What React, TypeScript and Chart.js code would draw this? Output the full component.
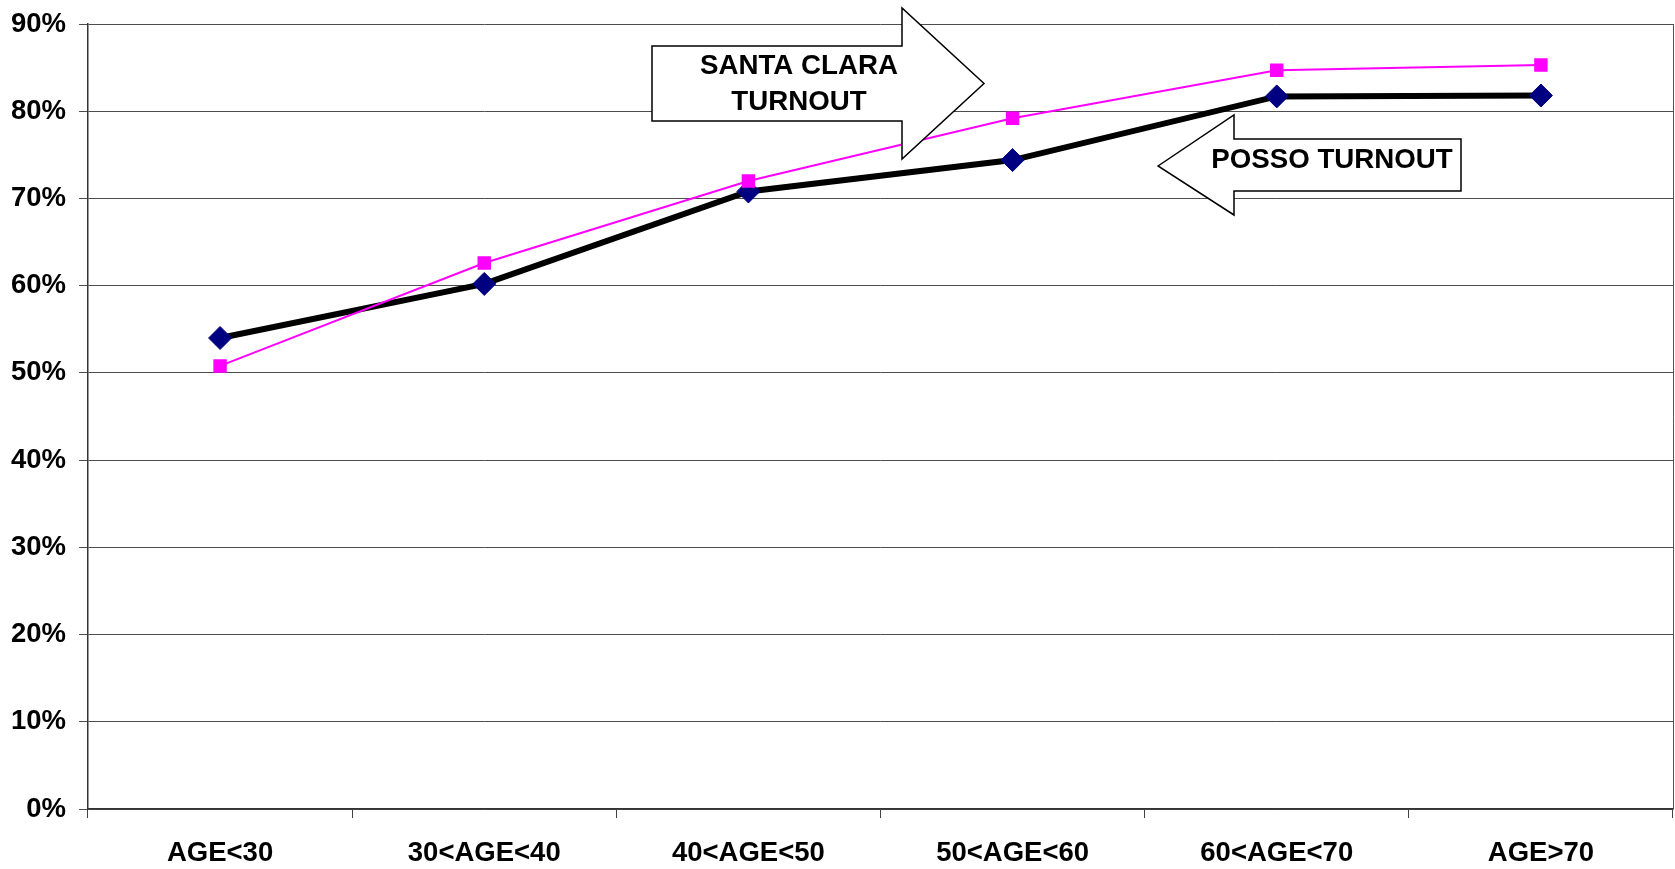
import React, { useEffect, useRef } from "react";
import { Chart, registerables } from "chart.js";

Chart.register(...registerables);

const categories = ["AGE<30", "30<AGE<40", "40<AGE<50", "50<AGE<60", "60<AGE<70", "AGE>70"];
const santaClaraTurnout = [50.8, 62.6, 72.0, 79.2, 84.7, 85.3];
const possoTurnout = [54.0, 60.2, 70.8, 74.4, 81.7, 81.8];
const yMin = 0;
const yMax = 90;
const yStep = 10;
const santaClaraLabel = ["SANTA CLARA", "TURNOUT"];
const possoLabel = ["POSSO TURNOUT"];

const FONT = "'Liberation Sans', Arial, sans-serif";

const arrowPlugin = {
  id: "arrows",
  beforeDatasetsDraw(chart: any) {
    const { ctx, chartArea } = chart;
    ctx.save();
    ctx.strokeStyle = "#555";
    ctx.lineWidth = 1;
    ctx.beginPath();
    ctx.moveTo(chartArea.right + 0.5, chartArea.top);
    ctx.lineTo(chartArea.right + 0.5, chartArea.bottom);
    ctx.stroke();
    ctx.restore();
  },
  afterDraw(chart: any) {
    const ctx = chart.ctx;
    ctx.save();
    ctx.lineWidth = 1.5;
    ctx.strokeStyle = "#000";
    ctx.fillStyle = "#fff";
    ctx.lineJoin = "miter";
    // Santa Clara arrow (pointing right)
    const sc = [
      [652, 46], [902, 46], [902, 8], [984, 83.5], [902, 159], [902, 121], [652, 121],
    ];
    ctx.beginPath();
    sc.forEach((p, i) => (i === 0 ? ctx.moveTo(p[0], p[1]) : ctx.lineTo(p[0], p[1])));
    ctx.closePath();
    ctx.fill();
    ctx.stroke();
    // Posso arrow (pointing left)
    const ps = [
      [1158, 166], [1234, 115], [1234, 139], [1461, 139], [1461, 191], [1234, 191], [1234, 215],
    ];
    ctx.beginPath();
    ps.forEach((p, i) => (i === 0 ? ctx.moveTo(p[0], p[1]) : ctx.lineTo(p[0], p[1])));
    ctx.closePath();
    ctx.fill();
    ctx.stroke();

    ctx.fillStyle = "#000";
    ctx.font = `bold 27.7px ${FONT}`;
    ctx.textAlign = "center";
    ctx.textBaseline = "middle";
    ctx.fillText(santaClaraLabel[0], 799, 66.8);
    ctx.fillText(santaClaraLabel[1], 799, 102.6);
    ctx.fillText(possoLabel[0], 1332, 160);
    ctx.restore();
  },
};

export default function App() {
  const ref = useRef<HTMLCanvasElement | null>(null);
  useEffect(() => {
    document.body.style.margin = "0";
    const canvas = ref.current;
    if (!canvas) return;
    const chart = new Chart(canvas, {
      type: "line",
      data: {
        labels: categories,
        datasets: [
          {
            label: "Santa Clara Turnout",
            data: santaClaraTurnout,
            borderColor: "#FF00FF",
            backgroundColor: "#FF00FF",
            borderWidth: 2,
            pointStyle: "rect",
            pointRadius: 9.5,
            pointBorderWidth: 0,
            pointBackgroundColor: "#FF00FF",
            tension: 0,
            order: 0,
          },
          {
            label: "Posso Turnout",
            data: possoTurnout,
            borderColor: "#000000",
            backgroundColor: "#000080",
            borderWidth: 6,
            pointStyle: "rectRot",
            pointRadius: 11.5,
            pointBorderWidth: 1,
            pointBorderColor: "#000080",
            pointBackgroundColor: "#000080",
            tension: 0,
            order: 1,
          },
        ],
      },
      options: {
        responsive: false,
        animation: false,
        devicePixelRatio: 1,
        layout: { autoPadding: false, padding: { top: 24, right: 2, bottom: 0, left: 0 } },
        plugins: {
          legend: { display: false },
          tooltip: { enabled: false },
          title: { display: false },
        },
        scales: {
          x: {
            type: "category",
            offset: true,
            grid: {
              display: true,
              offset: true,
              drawOnChartArea: false,
              drawTicks: true,
              tickLength: 9,
              color: "#444",
              lineWidth: 1,
            },
            border: { display: true, color: "#333", width: 1.5 },
            ticks: {
              color: "#000",
              font: { family: FONT, size: 27.5, weight: "bold" },
              padding: 19,
              maxRotation: 0,
              autoSkip: false,
            },
            afterFit: (scale: any) => {
              scale.height = 60;
              scale.paddingLeft = 0;
              scale.paddingRight = 0;
              scale.paddingTop = 0;
              scale.paddingBottom = 0;
            },
          },
          y: {
            min: yMin,
            max: yMax,
            grid: {
              color: "#4d4d4d",
              lineWidth: 1,
              drawTicks: true,
              tickLength: 9,
            },
            border: { display: true, color: "#333", width: 1.5 },
            ticks: {
              stepSize: yStep,
              color: "#000",
              font: { family: FONT, size: 27.5, weight: "bold" },
              padding: 13,
              callback: (v: any) => `${v}%`,
            },
            afterFit: (scale: any) => {
              scale.width = 88;
              scale.paddingTop = 0;
              scale.paddingBottom = 0;
              scale.paddingLeft = 0;
              scale.paddingRight = 0;
            },
          },
        },
      },
      plugins: [arrowPlugin],
    });
    return () => chart.destroy();
  }, []);
  return (
    <div style={{ position: "absolute", left: 0, top: 0, width: 1675, height: 869, background: "#fff" }}>
      <canvas ref={ref} width={1675} height={869} style={{ display: "block", width: 1675, height: 869 }} />
    </div>
  );
}
